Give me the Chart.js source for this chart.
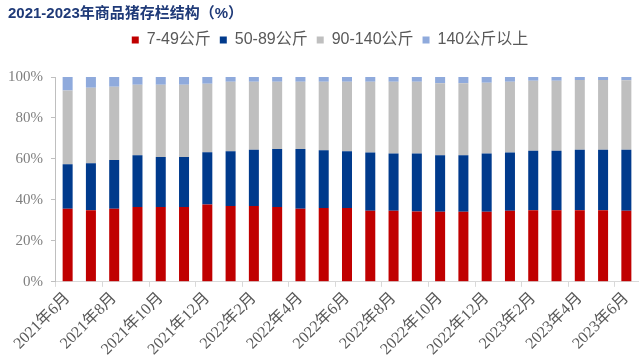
<!DOCTYPE html>
<html>
<head>
<meta charset="utf-8">
<script src="https://cdn.jsdelivr.net/npm/chart.js@4.4.0/dist/chart.umd.min.js"></script>
<style>
  html, body { margin: 0; padding: 0; background: #fff; }
  #wrap { position: relative; width: 640px; height: 357px; }
  #title { position: absolute; left: 8px; top: 1px; font-family: "Liberation Sans", "Noto Sans CJK SC", sans-serif; font-weight: bold; font-size: 15px; color: #1F3A78; white-space: nowrap; }
</style>
</head>
<body>
<div id="wrap">
  <canvas id="c" width="640" height="357"></canvas>
  <div id="title">2021-2023年商品猪存栏结构（%）</div>
</div>
<script>
const categories = ["2021年6月","2021年7月","2021年8月","2021年9月","2021年10月","2021年11月","2021年12月",
  "2022年1月","2022年2月","2022年3月","2022年4月","2022年5月","2022年6月","2022年7月","2022年8月","2022年9月",
  "2022年10月","2022年11月","2022年12月","2023年1月","2023年2月","2023年3月","2023年4月","2023年5月","2023年6月"];
const seriesNames = ["7-49公斤","50-89公斤","90-140公斤","140公斤以上"];
const s7_49   = [35.7,35.0,35.7,36.5,36.5,36.5,37.7,37.0,37.0,36.5,35.7,36.0,36.0,34.7,34.7,34.4,34.2,34.2,34.2,34.7,35.0,35.0,35.0,35.0,34.7];
const s50_89  = [21.7,22.9,23.8,25.3,24.5,24.5,25.6,26.8,27.5,28.3,29.1,28.3,27.8,28.5,28.0,28.3,27.6,27.6,28.5,28.5,29.0,29.0,29.5,29.5,29.8];
const s90_140 = [36.0,36.8,35.7,34.4,35.2,35.2,33.4,33.9,33.2,32.9,32.9,33.4,33.9,34.5,35.0,35.0,35.1,35.1,34.5,34.5,34.2,34.2,34.0,34.0,33.9];
const s140up  = [6.6,5.3,4.8,3.8,3.8,3.8,3.3,2.3,2.3,2.3,2.3,2.3,2.3,2.3,2.3,2.3,3.1,3.1,2.8,2.3,1.8,1.8,1.5,1.5,1.6];
const yTicks = [0,20,40,60,80,100];

const colors = ["#C00000","#003A8C","#BFBFBF","#8FAADC"];
const allData = [s7_49, s50_89, s90_140, s140up];

const legendGap = {
  id: 'legendGap',
  beforeInit(chart) {
    const lg = chart.legend;
    const origFit = lg.fit;
    lg.fit = function () {
      origFit.call(this);
      this.height += 19;
    };
    const origDraw = lg.draw;
    lg.draw = function () {
      const ctx = this.ctx;
      ctx.save();
      ctx.translate(11, 0);
      origDraw.call(this);
      ctx.restore();
    };
  }
};

new Chart(document.getElementById('c'), {
  type: 'bar',
  data: {
    labels: categories,
    datasets: allData.map((d, i) => ({
      label: seriesNames[i],
      data: d,
      backgroundColor: colors[i],
      borderWidth: 0,
      categoryPercentage: 1.0,
      barPercentage: 0.43
    }))
  },
  options: {
    responsive: false,
    animation: false,
    layout: { padding: { top: 23, left: 0, right: 2, bottom: 0 } },
    plugins: {
      title: { display: false },
      tooltip: { enabled: false },
      legend: {
        display: true,
        position: 'top',
        labels: {
          boxWidth: 7, boxHeight: 7,
          padding: 9,
          color: '#595959',
          font: { family: '"Liberation Sans", "Noto Sans CJK SC", sans-serif', size: 16 }
        }
      }
    },
    scales: {
      x: {
        stacked: true,
        offset: true,
        afterFit: (s) => { s.paddingLeft = 0; s.paddingRight = 0; s.height -= 4; },
        grid: {
          offset: true,
          drawOnChartArea: false,
          drawTicks: true,
          tickLength: 5,
          color: (ctx) => (ctx.index % 2 === 0 ? '#D9D9D9' : 'rgba(0,0,0,0)')
        },
        border: { color: '#D9D9D9', width: 1 },
        ticks: {
          autoSkip: false,
          maxRotation: 45, minRotation: 45,
          padding: 2,
          color: '#595959',
          font: { family: '"Liberation Serif", "Noto Sans CJK SC", serif', size: 16 },
          callback: function(v, i) { return i % 2 === 0 ? categories[i] : ''; }
        }
      },
      y: {
        stacked: true,
        min: 0, max: 100,
        afterBuildTicks: (axis) => { axis.ticks = yTicks.map(v => ({ value: v })); },
        grid: {
          drawOnChartArea: false,
          drawTicks: true,
          tickLength: 5,
          color: '#BFBFBF'
        },
        border: { color: '#BFBFBF', width: 1 },
        ticks: {
          padding: 8,
          color: '#7F7F7F',
          font: { family: '"Liberation Serif", serif', size: 15 },
          callback: (v) => v + '%'
        }
      }
    }
  },
  plugins: [legendGap]
});
</script>
</body>
</html>
